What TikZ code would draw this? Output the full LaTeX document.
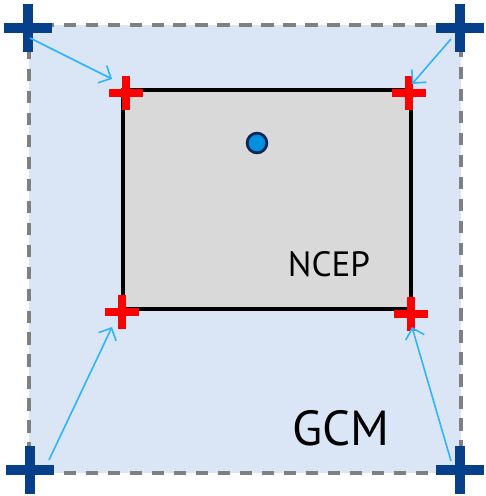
\documentclass[tikz,border=0pt]{standalone}
\usepackage{fontspec}
\setmainfont{PT Sans}
\usetikzlibrary{arrows.meta}
\definecolor{fondoazul}{RGB}{218,229,245}
\definecolor{fondogris}{RGB}{217,217,217}
\definecolor{bordegris}{RGB}{128,128,128}
\definecolor{azulosc}{RGB}{6,63,138}
\definecolor{flecha}{RGB}{45,180,255}
\definecolor{punto}{RGB}{0,144,224}
\definecolor{puntoborde}{RGB}{10,40,85}
\tikzset{
  cruz/.style n args={3}{draw=none, inner sep=0pt, minimum size=#1, path picture={
    \fill[#3] ([yshift=-#2]path picture bounding box.west) rectangle ([yshift=#2]path picture bounding box.east);
    \fill[#3] ([xshift=-#2]path picture bounding box.south) rectangle ([xshift=#2]path picture bounding box.north);}},
  gcm/.style={cruz={27.5pt}{2.9pt}{azulosc}},
  ncep/.style={cruz={19.8pt}{2.3pt}{red}},
}

\begin{document}
\begin{tikzpicture}[x=0.02cm, y=-0.02cm,
    flechita/.style={draw=flecha, line width=0.9pt, -{Straight Barb[length=5.5pt,width=11pt]}}]
  \useasboundingbox (0,0) rectangle (485,496);
  % Cajas
  \draw[fill=fondoazul, draw=bordegris, line width=2.1pt, dash pattern=on 7pt off 5.5pt] (29,25) rectangle (461,473);
  \draw[fill=fondogris, line width=1.8pt] (123,90) rectangle (411,309);
  \draw[fill=punto, draw=puntoborde, line width=1.6pt] (257,143) circle (5.6pt);

  % Nodos
  \node[font=\fontsize{20}{24}\selectfont] (tncep) at (329,264) {NCEP};
  \node[font=\fontsize{28}{32}\selectfont] (tgcm) at (341,428) {GCM};
  \node[ncep] (n1) at (126,93) {};
  \node[ncep] (n2) at (409,93) {};
  \node[ncep] (n3) at (122,312) {};
  \node[ncep] (n4) at (411,314) {};
  \node[gcm] (g1) at (28,28) {};
  \node[gcm] (g2) at (460,28) {};
  \node[gcm] (g3) at (30,470) {};
  \node[gcm] (g4) at (460,470) {};

  % Flechas
  \draw[flechita] ([shift={(2,10)}]g1.center) -- ([shift={(-14,-14)}]n1.center);
  \draw[flechita] ([shift={(-9,11)}]g2.center) -- ([shift={(3,-9)}]n2.center);
  \draw[flechita] ([shift={(19,-10)}]g3.center) -- ([shift={(-10,15)}]n3.center);
  \draw[flechita] ([shift={(-9,-9)}]g4.center) -- ([shift={(1,13)}]n4.center);
\end{tikzpicture}
\end{document}
